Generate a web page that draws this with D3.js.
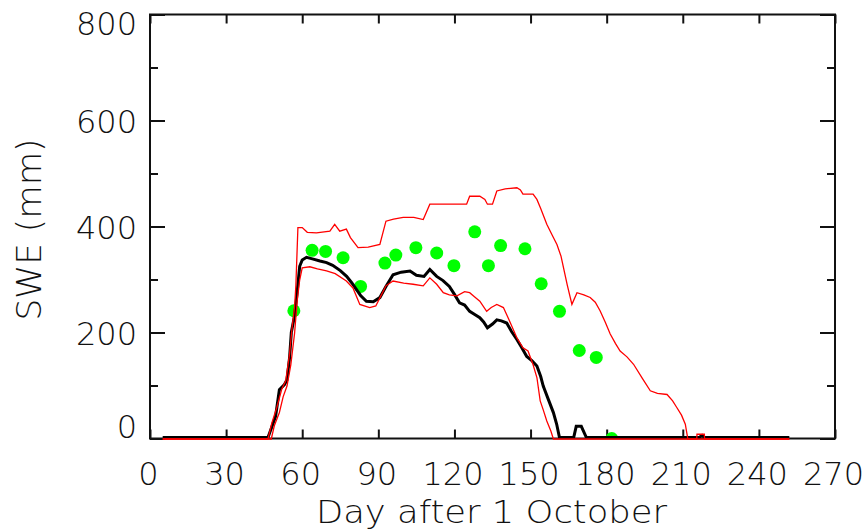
<!DOCTYPE html>
<html>
<head>
<meta charset="utf-8">
<script src="https://cdn.jsdelivr.net/npm/d3@7"></script>
<style>
  html, body { margin: 0; padding: 0; background: #fff; }
  svg { display: block; }
  text { font-family: "DejaVu Sans", sans-serif; font-weight: 200; fill: #111; }
</style>
</head>
<body>
<svg id="chart" width="868" height="531"></svg>
<script>
// ---- data ----
const xTickValues = [0, 30, 60, 90, 120, 150, 180, 210, 240, 270];
const yTickValues = [0, 200, 400, 600, 800];
const yMinorTickValues = [100, 300, 500, 700];
const xTitle = "Day after 1 October";
const yTitle = "SWE (mm)";

// black line (simulated SWE)
const blackDays = [5, 46.5, 48, 49.5, 51, 53, 54, 55, 55.7, 57, 57.7, 59, 60, 61.7, 64, 67, 69.6, 72, 75, 77.5, 79.5, 81.4, 83, 85.3, 88, 90.6, 93, 95.8, 99, 102.5, 105, 108, 110.3, 113, 115.5, 118, 120, 122, 124, 126, 128, 130, 131.5, 133, 135, 136.7, 138.5, 140.6, 142.5, 144.6, 146.5, 148.5, 150.5, 152.5, 154, 155, 157, 159, 160.3, 161.4, 167, 168, 170, 172, 216.5, 217.6, 218.5, 252];
const blackSwe  = [0, 0, 20, 40, 90, 100, 109, 150, 198, 230, 260, 323, 335, 340, 337, 333, 330, 325, 315, 304, 292, 279, 268, 257, 256, 264, 285, 307, 312, 314, 306, 304, 317, 304, 296, 285, 270, 254, 250, 238, 232, 226, 218, 207, 214, 222, 220, 216, 200, 185, 170, 153, 145, 135, 115, 97, 72, 47, 25, 0, 0, 21, 21, 0, 0, 4, 0, 0];

// red lower envelope
const lowDays = [5, 47.8, 49, 51, 52.5, 54, 55.5, 57, 58, 59, 60, 63, 66, 69.6, 73, 77.4, 80, 82.7, 86.6, 89, 91, 93, 95.8, 100, 103.7, 107.7, 110.3, 113, 115.6, 118, 121, 124, 126, 128, 130, 132.7, 134.5, 136.7, 139.3, 141.5, 144.6, 147, 149, 151, 152.5, 153.8, 155, 156.4, 158, 159, 252];
const lowSwe  = [0, 0, 25, 50, 80, 100, 140, 200, 260, 300, 323, 325, 321, 317, 312, 298, 285, 254, 248, 251, 270, 289, 298, 294, 292, 289, 304, 292, 276, 272, 270, 278, 276, 268, 260, 241, 248, 254, 248, 225, 191, 172, 166, 140, 116, 72, 55, 34, 15, 0, 0];

// red upper envelope
const highDays = [5, 46.5, 48, 50, 52, 53.5, 55, 56, 57, 57.5, 58.3, 60, 62, 65.6, 70.9, 72.8, 74.8, 77.4, 79, 82, 86, 90.6, 93, 96, 99.8, 104, 107.7, 110.3, 115, 120, 124.8, 126, 130, 132, 133, 135, 136.7, 140, 144.6, 146, 147, 151, 152.5, 154, 156.4, 158.5, 160.4, 162, 163, 164.5, 166.3, 168.3, 171, 173.5, 175.5, 177.4, 179.5, 181.4, 183.5, 185.3, 188, 190.6, 194, 197.2, 200, 203.8, 206, 207.7, 209.5, 211, 212, 215.5, 215.6, 218.5, 218.6, 252];
const highSwe  = [0, 0, 30, 60, 95, 110, 160, 210, 250, 290, 399, 399, 390, 389, 392, 405, 392, 396, 380, 361, 362, 367, 411, 415, 418, 418, 414, 443, 443, 443, 443, 458, 458, 452, 443, 443, 468, 472, 474, 470, 462, 462, 452, 435, 405, 385, 367, 345, 323, 290, 254, 276, 272, 267, 258, 242, 220, 198, 180, 166, 155, 141, 115, 91, 86, 84, 72, 59, 45, 28, 0, 0, 9, 9, 0, 0];

// green dots (observed SWE)
const obsDays = [56.7, 63.9, 69.2, 76.1, 83, 92.6, 96.9, 104.8, 113, 119.8, 128, 133.4, 138.2, 147.8, 154.2, 161.4, 169.2, 175.9, 182];
const obsSwe  = [241, 355, 353, 341, 287, 331, 346, 360, 350, 326, 390, 326, 364, 358, 292, 240, 166, 153, 0];

// ---- drawing ----
const svg = d3.select("#chart");
const L = 150, R = 835, T = 14.5, B = 438.5;
const x = d3.scaleLinear().domain([0, 270]).range([L, R]);
const y = d3.scaleLinear().domain([0, 800]).range([B, T]);

const defs = svg.append("defs");
defs.append("clipPath").attr("id", "dotclip")
  .append("rect").attr("x", L).attr("y", T).attr("width", R - L).attr("height", B - T - 1);
defs.append("clipPath").attr("id", "lineclip")
  .append("rect").attr("x", L).attr("y", T - 3).attr("width", R - L).attr("height", B - T + 5);

// axes
const fontSize = 32;
function styleAxis(g) {
  g.select(".domain").remove();
  g.selectAll(".tick line").attr("stroke", "#111").attr("stroke-width", 2);
  g.selectAll("text").attr("font-size", fontSize).attr("font-family", "DejaVu Sans, sans-serif")
    .attr("fill", "#111");
}

// frame
svg.append("rect").attr("x", L).attr("y", T).attr("width", R - L).attr("height", B - T)
  .attr("fill", "none").attr("stroke", "#111").attr("stroke-width", 2);

// bottom
svg.append("g").attr("transform", `translate(0,${B})`)
  .call(d3.axisBottom(x).tickValues(xTickValues).tickSize(-9).tickPadding(24).tickFormat(d3.format("d")))
  .call(styleAxis)
  .call(g => g.selectAll("text").attr("dx", -2));
// top
svg.append("g").attr("transform", `translate(0,${T})`)
  .call(d3.axisTop(x).tickValues(xTickValues).tickSize(-9).tickFormat(""))
  .call(styleAxis);
// left major
svg.append("g").attr("transform", `translate(${L},0)`)
  .call(d3.axisLeft(y).tickValues(yTickValues).tickSize(-15).tickPadding(13).tickFormat(d3.format("d")))
  .call(styleAxis)
  .call(g => g.selectAll("text").attr("dy", (d) => d === 0 ? "-0.02em" : d === 800 ? "0.62em" : "0.38em"));
// left minor
svg.append("g").attr("transform", `translate(${L},0)`)
  .call(d3.axisLeft(y).tickValues(yMinorTickValues).tickSize(-8).tickFormat(""))
  .call(styleAxis);
// right major + minor
svg.append("g").attr("transform", `translate(${R},0)`)
  .call(d3.axisRight(y).tickValues(yTickValues).tickSize(-15).tickFormat(""))
  .call(styleAxis);
svg.append("g").attr("transform", `translate(${R},0)`)
  .call(d3.axisRight(y).tickValues(yMinorTickValues).tickSize(-8).tickFormat(""))
  .call(styleAxis);

// observations
svg.append("g").attr("clip-path", "url(#dotclip)").selectAll("circle")
  .data(obsDays.map((d, i) => [d, obsSwe[i]]))
  .join("circle")
  .attr("cx", d => x(d[0]))
  .attr("cy", d => y(d[1]))
  .attr("r", 6.5)
  .attr("fill", "#00ff00");

const line = d3.line().x(d => x(d[0])).y(d => y(d[1]));
const pairs = (ds, vs) => ds.map((d, i) => [d, vs[i]]);
const lines = svg.append("g").attr("clip-path", "url(#lineclip)");

lines.append("path").datum(pairs(blackDays, blackSwe))
  .attr("d", line).attr("fill", "none").attr("stroke", "#000").attr("stroke-width", 3)
  .attr("transform", "translate(0,-1)");
lines.append("path").datum(pairs(highDays, highSwe))
  .attr("d", line).attr("fill", "none").attr("stroke", "#ff0000").attr("stroke-width", 1.3)
  .attr("transform", "translate(0,0.5)");
lines.append("path").datum(pairs(lowDays, lowSwe))
  .attr("d", line).attr("fill", "none").attr("stroke", "#ff0000").attr("stroke-width", 1.3)
  .attr("transform", "translate(0,0.5)");

// titles
svg.append("text")
  .attr("x", (L + R) / 2 - 1).attr("y", 523)
  .attr("text-anchor", "middle")
  .attr("font-size", 32)
  .attr("textLength", 351).attr("lengthAdjust", "spacingAndGlyphs")
  .text(xTitle);

svg.append("text")
  .attr("transform", `translate(41,${(T + B) / 2 + 3}) rotate(-90)`)
  .attr("text-anchor", "middle")
  .attr("font-size", 33)
  .attr("textLength", 182).attr("lengthAdjust", "spacingAndGlyphs")
  .text(yTitle);
</script>
</body>
</html>
